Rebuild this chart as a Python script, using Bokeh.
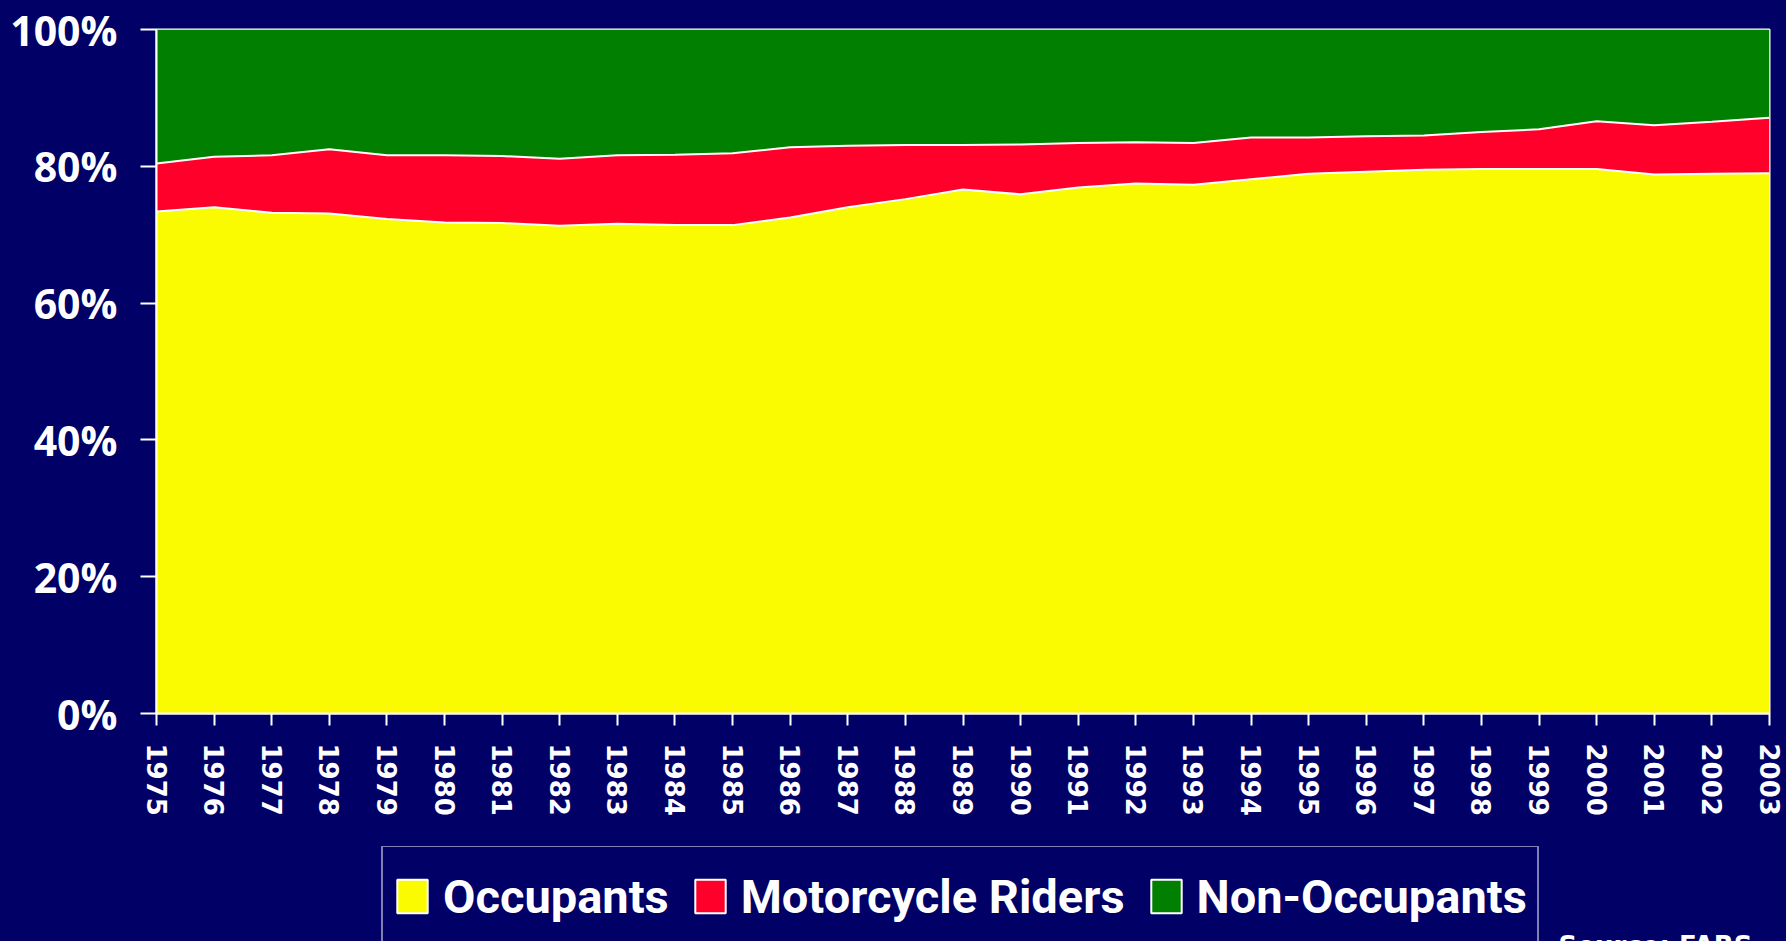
from bokeh.plotting import figure
from bokeh.layouts import column
from bokeh.models import (ColumnDataSource, Range1d, FixedTicker, PrintfTickFormatter,
                          Legend, LegendItem, Label)
from bokeh.transform import stack
from bokeh.embed import file_html
from bokeh.resources import INLINE

# ---- data (percent of fatalities) ----
years = list(range(1975, 2004))
occupants = [73.4, 74.0, 73.2, 73.1, 72.3, 71.8, 71.7, 71.3, 71.6, 71.4, 71.4, 72.5, 74.0, 75.2,
             76.6, 75.9, 76.9, 77.5, 77.3, 78.1, 78.9, 79.2, 79.5, 79.6, 79.6, 79.6, 78.8, 78.9, 79.0]
motorcycle = [7.0, 7.4, 8.4, 9.4, 9.3, 9.8, 9.8, 9.8, 10.0, 10.3, 10.5, 10.3, 9.0, 7.9,
              6.5, 7.3, 6.5, 6.0, 6.1, 6.1, 5.3, 5.2, 5.0, 5.4, 5.8, 7.0, 7.2, 7.6, 8.1]
non_occupants = [19.6, 18.6, 18.4, 17.5, 18.4, 18.4, 18.5, 18.9, 18.4, 18.3, 18.1, 17.2, 17.0, 16.9,
                 16.9, 16.8, 16.6, 16.5, 16.6, 15.8, 15.8, 15.6, 15.5, 15.0, 14.6, 13.4, 14.0, 13.5, 12.9]
series_names = ["Occupants", "Motorcycle Riders", "Non-Occupants"]
y_ticks = [0, 20, 40, 60, 80, 100]
source_text = "Source:  FARS"

NAVY = "#000066"
COLORS = ["#FAFA00", "#FF002B", "#007F00"]

src = ColumnDataSource(dict(year=years, occ=occupants, moto=motorcycle, non=non_occupants))

# ---------------- main chart ----------------
p = figure(width=1786, height=846, output_backend="svg", toolbar_location=None,
           x_range=Range1d(1975, 2003), y_range=Range1d(0, 100),
           min_border_left=156, min_border_right=17, min_border_top=29, min_border_bottom=133)
p.background_fill_color = NAVY
p.border_fill_color = NAVY
p.outline_line_color = "white"
p.outline_line_width = 2
p.xgrid.visible = False
p.ygrid.visible = False

p.varea_stack(stackers=["occ", "moto", "non"], x="year", color=COLORS, source=src)
p.line(x="year", y=stack("occ"), line_color="white", line_width=2, source=src)
p.line(x="year", y=stack("occ", "moto"), line_color="white", line_width=2, source=src)

xa = p.xaxis[0]
xa.ticker = FixedTicker(ticks=years)
xa.major_label_orientation = "vertical"
xa.major_label_text_font = "DejaVu Sans"
xa.major_label_text_font_style = "bold"
xa.major_label_text_font_size = "26px"
xa.major_label_text_color = "white"
xa.major_label_standoff = 18
xa.axis_line_color = "white"
xa.axis_line_width = 2
xa.major_tick_line_color = "white"
xa.major_tick_line_width = 2
xa.major_tick_out = 12
xa.major_tick_in = 0
xa.minor_tick_line_color = None

ya = p.yaxis[0]
ya.ticker = FixedTicker(ticks=y_ticks)
ya.formatter = PrintfTickFormatter(format="%d%%")
ya.major_label_text_font = "Open Sans"
ya.major_label_text_font_style = "bold"
ya.major_label_text_font_size = "41px"
ya.major_label_text_color = "white"
ya.major_label_standoff = 23
ya.axis_line_color = "white"
ya.axis_line_width = 2
ya.major_tick_line_color = "white"
ya.major_tick_line_width = 2
ya.major_tick_out = 16
ya.major_tick_in = 0
ya.minor_tick_line_color = None

# ---------------- legend strip ----------------
q = figure(width=1786, height=95, output_backend="svg", toolbar_location=None,
           x_axis_type=None, y_axis_type=None,
           min_border_left=0, min_border_right=0, min_border_top=0, min_border_bottom=0)
q.background_fill_color = NAVY
q.border_fill_color = NAVY
q.outline_line_color = None
q.xgrid.visible = False
q.ygrid.visible = False

nan = float("nan")
items = []
for name, col in zip(series_names, COLORS):
    r = q.quad(left=[nan], right=[nan], top=[nan], bottom=[nan], fill_color=col,
               line_color="white", line_width=2)
    items.append(LegendItem(label=name, renderers=[r]))

legend = Legend(items=items, orientation="horizontal", location=(225, -6),
                background_fill_color=NAVY, background_fill_alpha=1.0,
                border_line_color="white", border_line_width=2,
                label_text_color="white", label_text_font="Roboto",
                label_text_font_style="bold", label_text_font_size="47px",
                glyph_width=38, glyph_height=42, label_standoff=12, spacing=22,
                padding=10, margin=0, label_height=78)
q.add_layout(legend, "center")

q.add_layout(Label(x=1402, y=11, x_units="screen", y_units="screen", text=source_text,
                   text_color="white", text_font="DejaVu Sans", text_font_style="bold",
                   text_font_size="26px", text_baseline="top"))

layout = column(p, q, spacing=0)

html = file_html(layout, INLINE)
html = html.replace("</head>", "<style>html,body{background:#000066;}</style></head>", 1)
open("out.html", "w").write(html)
